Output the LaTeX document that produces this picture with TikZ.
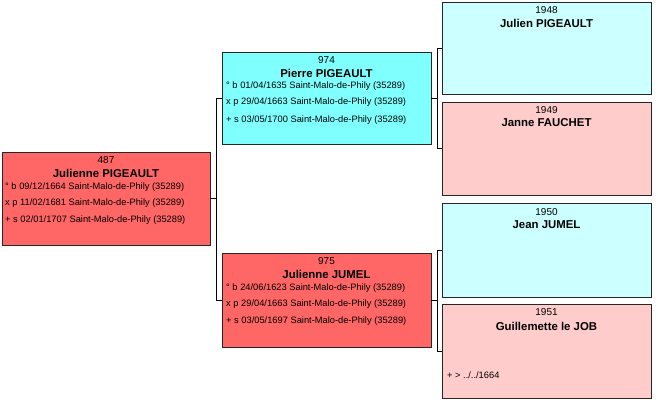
\documentclass[tikz,border=0pt]{standalone}
\usepackage{fontspec}
\setmainfont{Liberation Sans}
\definecolor{dadred}{RGB}{255,102,102}
\definecolor{dadcyan}{RGB}{128,255,255}
\definecolor{palecyan}{RGB}{204,255,255}
\definecolor{palepink}{RGB}{255,204,204}

\begin{document}
\begin{tikzpicture}[x=1pt,y=-1pt,
		person/.style={draw=black!85, line width=1pt, rectangle, anchor=north west,
		  inner sep=0pt, outer sep=0pt, minimum width=209pt},
		num/.style={font=\fontsize{10}{12}\selectfont, inner sep=0pt},
		pname/.style={font=\fontsize{11.4}{13}\selectfont\bfseries, inner sep=0pt},
		info/.style={font=\fontsize{9.3}{11}\selectfont, anchor=west, inner sep=0pt},
		link/.style={draw=black, line width=1pt}]
    \useasboundingbox (0,0) rectangle (658,405);
    % boxes
		\node[person, fill=dadred, minimum width=208pt, minimum height=93pt] (p487) at (2,152) {};
		\node[person, fill=dadcyan, minimum height=92pt]  (p974)  at (222,52)  {};
		\node[person, fill=dadred, minimum height=94pt]   (p975)  at (222,253) {};
		\node[person, fill=palecyan, minimum height=92pt] (p1948) at (442,2)   {};
		\node[person, fill=palepink, minimum height=93pt] (p1949) at (442,102) {};
		\node[person, fill=palecyan, minimum height=94pt] (p1950) at (442,203) {};
		\node[person, fill=palepink, minimum height=94pt] (p1951) at (442,304) {};
    % texts
		\node[num]   (n487) at (106,160) {487};
		\node[pname] (m487) at (106,173) {Julienne PIGEAULT};
		\node[info]  (b487) at (5,187) {° b 09/12/1664 Saint-Malo-de-Phily (35289)};
		\node[info]  (x487) at (5,203) {x p 11/02/1681 Saint-Malo-de-Phily (35289)};
		\node[info]  (d487) at (5,220) {+ s 02/01/1707 Saint-Malo-de-Phily (35289)};
		\node[num]   (n974) at (326.5,60) {974};
		\node[pname] (m974) at (326.5,73) {Pierre PIGEAULT};
		\node[info]  (b974) at (226,86)  {° b 01/04/1635 Saint-Malo-de-Phily (35289)};
		\node[info]  (x974) at (226,102) {x p 29/04/1663 Saint-Malo-de-Phily (35289)};
		\node[info]  (d974) at (226,120) {+ s 03/05/1700 Saint-Malo-de-Phily (35289)};
		\node[num]   (n975) at (326.5,261) {975};
		\node[pname] (m975) at (326.5,274) {Julienne JUMEL};
		\node[info]  (b975) at (226,288) {° b 24/06/1623 Saint-Malo-de-Phily (35289)};
		\node[info]  (x975) at (226,304) {x p 29/04/1663 Saint-Malo-de-Phily (35289)};
		\node[info]  (d975) at (226,321) {+ s 03/05/1697 Saint-Malo-de-Phily (35289)};
		\node[num]   (n1948) at (546.5,10)  {1948};
		\node[pname] (m1948) at (546.5,23)  {Julien PIGEAULT};
		\node[num]   (n1949) at (546.5,110) {1949};
		\node[pname] (m1949) at (546.5,123) {Janne FAUCHET};
		\node[num]   (n1950) at (546.5,212) {1950};
		\node[pname] (m1950) at (546.5,225) {Jean JUMEL};
		\node[num]   (n1951) at (546.5,312) {1951};
		\node[pname] (m1951) at (546.5,326) {Guillemette le JOB};
		\node[info]  (d1951) at (447,375) {+ > ../../1664};
    % forks
		\draw[link] (p487.east) -- ++(6,0) coordinate (f487);
		\draw[link] (f487) |- (p974.west);
		\draw[link] (f487) |- (p975.west);
		\draw[link] (p974.east) -- ++(6,0) coordinate (f974);
		\draw[link] (f974) |- (p1948.west);
		\draw[link] (f974) |- (p1949.west);
		\draw[link] (p975.east) -- ++(6,0) coordinate (f975);
		\draw[link] (f975) |- (p1950.west);
		\draw[link] (f975) |- (p1951.west);
\end{tikzpicture}
\end{document}
